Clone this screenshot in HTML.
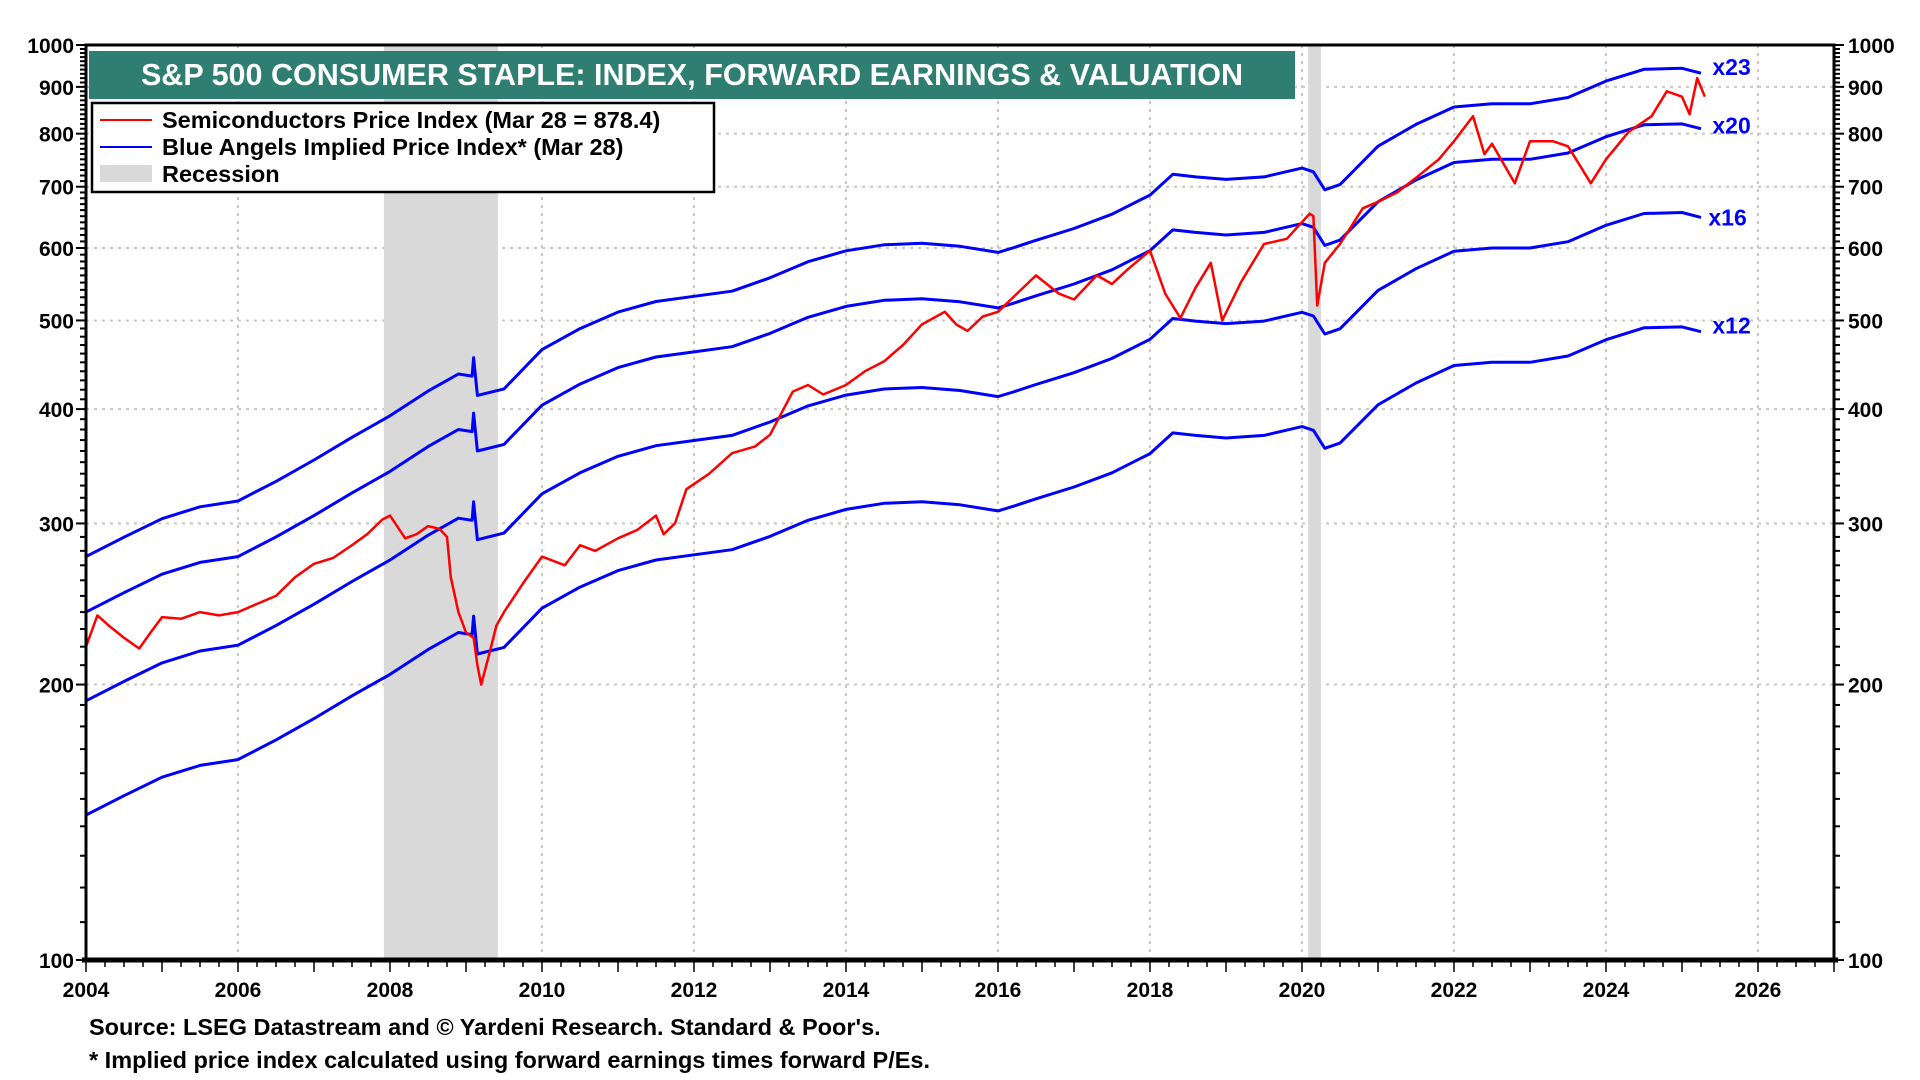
<!DOCTYPE html>
<html><head><meta charset="utf-8"><style>
html,body{margin:0;padding:0;background:#fff;}
svg{display:block;font-family:"Liberation Sans",Arial,sans-serif;}
</style></head><body>
<svg id="chart" width="1920" height="1080" viewBox="0 0 1920 1080">
<g id="grid"></g>
<g id="recess"></g>
<g id="series"></g>
<g id="axes"></g>
<rect x="89" y="51" width="1206" height="48" fill="#2e7f71"/>
<text x="692" y="85" text-anchor="middle" fill="#fff" font-weight="bold" font-size="30.5">S&amp;P 500 CONSUMER STAPLE: INDEX, FORWARD EARNINGS &amp; VALUATION</text>
<g>
<rect x="92" y="103" width="622" height="89" fill="#fff" stroke="#000" stroke-width="2.5"/>
<line x1="100" y1="120" x2="152" y2="120" stroke="#f00" stroke-width="2"/>
<text x="162" y="128" font-size="23.5" font-weight="bold">Semiconductors Price Index (Mar 28 = 878.4)</text>
<line x1="100" y1="147" x2="152" y2="147" stroke="#00f" stroke-width="2"/>
<text x="162" y="155" font-size="23.5" font-weight="bold">Blue Angels Implied Price Index* (Mar 28)</text>
<rect x="100" y="165" width="52" height="17" fill="#d9d9d9"/>
<text x="162" y="182" font-size="23.5" font-weight="bold">Recession</text>
</g>
<text x="89" y="1035" font-size="23.5" font-weight="bold">Source: LSEG Datastream and © Yardeni Research. Standard &amp; Poor's.</text>
<text x="89" y="1068" font-size="23.5" font-weight="bold">* Implied price index calculated using forward earnings times forward P/Es.</text>
</svg>
<script>
const xTicks=[2004,2006,2008,2010,2012,2014,2016,2018,2020,2022,2024,2026];
const yTicks=[100,200,300,400,500,600,700,800,900,1000];
const recessions=[[2007.92,2009.42],[2020.08,2020.25]];
const multiples=[23,20,16,12];
const multLabels=["x23","x20","x16","x12"];
const epsDates=[2004.0,2004.5,2005.0,2005.5,2006.0,2006.5,2007.0,2007.5,2008.0,2008.5,2008.9,2009.08,2009.1,2009.15,2009.5,2010.0,2010.5,2011.0,2011.5,2012.0,2012.5,2013.0,2013.5,2014.0,2014.5,2015.0,2015.5,2016.0,2016.2,2016.5,2017.0,2017.5,2018.0,2018.3,2018.6,2019.0,2019.5,2020.0,2020.15,2020.3,2020.5,2021.0,2021.5,2022.0,2022.5,2023.0,2023.5,2024.0,2024.5,2025.0,2025.25];
const epsValues=[12.0,12.6,13.2,13.6,13.8,14.5,15.3,16.2,17.1,18.2,19.0,18.9,19.8,18.0,18.3,20.2,21.3,22.2,22.8,23.1,23.4,24.2,25.2,25.9,26.3,26.4,26.2,25.8,26.1,26.6,27.4,28.4,29.8,31.4,31.2,31.0,31.2,31.9,31.6,30.2,30.6,33.7,35.6,37.2,37.5,37.5,38.1,39.7,40.9,41.0,40.5];
const priceDates=[2004.0,2004.15,2004.3,2004.5,2004.7,2004.85,2005.0,2005.25,2005.5,2005.75,2006.0,2006.25,2006.5,2006.75,2007.0,2007.25,2007.5,2007.7,2007.9,2008.0,2008.2,2008.35,2008.5,2008.65,2008.75,2008.8,2008.9,2009.0,2009.1,2009.15,2009.2,2009.3,2009.4,2009.5,2009.75,2010.0,2010.3,2010.5,2010.7,2011.0,2011.25,2011.5,2011.6,2011.75,2011.9,2012.2,2012.5,2012.8,2013.0,2013.3,2013.5,2013.7,2014.0,2014.25,2014.5,2014.75,2015.0,2015.3,2015.45,2015.6,2015.8,2016.0,2016.25,2016.5,2016.8,2017.0,2017.3,2017.5,2017.7,2018.0,2018.2,2018.4,2018.6,2018.8,2018.95,2019.2,2019.5,2019.8,2020.1,2020.15,2020.2,2020.3,2020.5,2020.8,2021.0,2021.25,2021.5,2021.8,2022.0,2022.25,2022.4,2022.5,2022.8,2023.0,2023.3,2023.5,2023.65,2023.8,2024.0,2024.3,2024.6,2024.8,2025.0,2025.1,2025.2,2025.3];
const priceValues=[220,238,232,225,219,228,237,236,240,238,240,245,250,262,271,275,284,292,303,306,289,292,298,296,290,262,240,228,225,210,200,215,232,240,258,276,270,284,280,289,295,306,292,300,327,340,358,364,375,418,425,415,425,440,451,470,495,511,495,487,505,511,535,560,535,527,560,548,568,596,535,503,543,578,500,551,606,614,654,650,519,578,606,663,674,690,716,750,785,836,760,780,706,785,785,775,740,706,750,804,836,890,878,840,920,878];

const X0=86,X1=1834,Y0=45,Y1=960;
const xs=y=>X0+(y-2004)*(X1-X0)/23;
const ys=v=>Y0+(3-Math.log10(v))*(Y1-Y0)/1;
const NS="http://www.w3.org/2000/svg";
function mk(tag,attrs,parent){const e=document.createElementNS(NS,tag);for(const k in attrs)e.setAttribute(k,attrs[k]);parent.appendChild(e);return e;}
const grid=document.getElementById('grid'),rec=document.getElementById('recess'),ser=document.getElementById('series'),ax=document.getElementById('axes');

recessions.forEach(r=>{
  const e=mk('rect',{x:xs(r[0]),y:Y0,width:xs(r[1])-xs(r[0]),height:Y1-Y0,fill:'#d9d9d9'},rec);
  
  
});
xTicks.forEach(t=>{
  if(t===2004)return;
  const e=mk('line',{x1:xs(t),x2:xs(t),y1:Y0,y2:Y1,stroke:'#c8c8c8','stroke-width':2,'stroke-dasharray':'3,5'},grid);
  
  
});
yTicks.forEach(t=>{
  if(t===100||t===1000)return;
  const e=mk('line',{x1:X0,x2:X1,y1:ys(t),y2:ys(t),stroke:'#c8c8c8','stroke-width':2,'stroke-dasharray':'3,5'},grid);
  
  
});

function path(dates,vals){return dates.map((d,i)=>(i?'L':'M')+xs(d).toFixed(1)+','+ys(vals[i]).toFixed(1)).join(' ');}
const labelOffsets=[2,5,8,2];
multiples.forEach((m,k)=>{
  const vals=epsValues.map(e=>e*m);
  const p=mk('path',{d:path(epsDates,vals),fill:'none',stroke:'#0000ff','stroke-width':3,'stroke-linejoin':'round'},ser);
  
  
  const lastV=vals[vals.length-1];
  const t=mk('text',{x:xs(2025.4)+(k===2?-4:0),y:ys(lastV)+labelOffsets[k],fill:'#0000ff','font-size':23,'font-weight':'bold'},ser);
  t.textContent=multLabels[k];
  
  
});
const rp=mk('path',{d:path(priceDates,priceValues),fill:'none',stroke:'#ff0000','stroke-width':2.5,'stroke-linejoin':'round'},ser);



const fr=mk('rect',{x:X0,y:Y0,width:X1-X0,height:Y1-Y0,fill:'none',stroke:'#000','stroke-width':3},ax);


const bl=mk('line',{x1:X0-4,x2:X1+4,y1:Y1,y2:Y1,stroke:'#000','stroke-width':5},ax);



for(let d=100;d<=1000;d+=10){
  const major=yTicks.includes(d);
  const y=ys(d);
  mk('line',{x1:X0-(major?10:6),x2:X0,y1:y,y2:y,stroke:'#000','stroke-width':2},ax);
  mk('line',{x1:X1,x2:X1+(major?10:6),y1:y,y2:y,stroke:'#000','stroke-width':2},ax);
}
yTicks.forEach(t=>{
  const a=mk('text',{x:X0-12,y:ys(t)+8,'text-anchor':'end','font-size':21,'font-weight':'bold'},ax);
  a.textContent=t;
  
  
  const b=mk('text',{x:X1+14,y:ys(t)+8,'font-size':21,'font-weight':'bold'},ax);
  b.textContent=t;
  
  
});
for(let q=2004;q<=2027.001;q+=0.25){
  const major=Math.abs(q-Math.round(q))<1e-6;
  mk('line',{x1:xs(q),x2:xs(q),y1:Y1,y2:Y1+(major?12:7),stroke:'#000','stroke-width':1.5},ax);
}
xTicks.forEach(t=>{
  const a=mk('text',{x:xs(t),y:Y1+37,'text-anchor':'middle','font-size':21,'font-weight':'bold'},ax);
  a.textContent=t;
  
  
});
</script>
</body></html>
